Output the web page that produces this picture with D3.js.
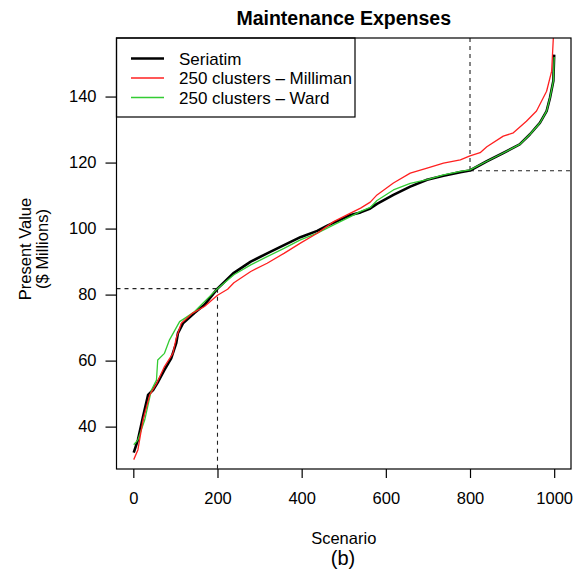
<!DOCTYPE html>
<html>
<head>
<meta charset="utf-8">
<script src="https://cdn.jsdelivr.net/npm/d3@7"></script>
<style>
  body { margin: 0; background: #fff; }
  svg { font-family: "Liberation Sans", Arial, Helvetica, sans-serif; }
</style>
</head>
<body>
<div id="chart"></div>
<script>
// datos (escenario ordenado, valor presente en millones)
const seriatimX = [1, 11, 23, 35, 47, 59, 74, 90, 102, 106, 118, 145, 169, 200, 239, 279, 318, 358, 397, 437, 461, 516, 540, 563, 579, 618, 658, 698, 737, 777, 800, 840, 879, 918, 942, 966, 982, 990, 998, 1000];
const seriatimY = [32.1, 36, 43, 49.6, 51.1, 53.6, 57.2, 60.7, 65.3, 68.3, 71.3, 74.4, 76.9, 81.8, 86.6, 90, 92.5, 95, 97.4, 99.3, 100.9, 104.1, 104.9, 106.1, 107.5, 110.2, 112.7, 114.8, 116, 117.1, 117.6, 120.4, 122.9, 125.5, 128.5, 132, 135.6, 139.6, 144.7, 152.7];

const millimanX = [1, 11, 23, 39, 55, 74, 94, 102, 114, 141, 169, 200, 224, 239, 279, 318, 358, 397, 437, 476, 516, 540, 563, 579, 618, 658, 698, 737, 777, 800, 824, 840, 879, 903, 934, 958, 982, 994, 998, 1000];
const millimanY = [30, 33, 42, 49.6, 53, 58.2, 62.2, 66.8, 71.3, 74.4, 76.4, 79.8, 81.6, 83.6, 87, 89.5, 92.5, 95.6, 98.6, 102.1, 104.7, 106.2, 108.0, 110.2, 113.8, 116.8, 118.3, 119.8, 120.8, 122, 123, 124.8, 128, 129, 132.5, 135.6, 141.6, 147.7, 157.8, 165];

const wardX = [1, 11, 27, 43, 55, 58, 74, 86, 110, 122, 145, 200, 239, 279, 318, 358, 397, 437, 476, 516, 540, 563, 579, 618, 658, 698, 737, 777, 800, 840, 879, 918, 942, 966, 982, 990, 998, 1000];
const wardY = [34.5, 36, 42, 51.1, 54.1, 60.2, 62.2, 66.3, 71.8, 72.8, 74.8, 81.8, 86, 89, 91.5, 94, 96.6, 98.6, 101.1, 103.6, 105.2, 106.4, 108.5, 111.7, 113.7, 114.8, 116.3, 117.3, 117.8, 120.4, 122.9, 125.5, 128.5, 132, 135.6, 139.6, 144.7, 152];

const xTicks = [0, 200, 400, 600, 800, 1000];
const yTicks = [40, 60, 80, 100, 120, 140];
const seriesNames = ["Seriatim", "250 clusters \u2013 Milliman", "250 clusters \u2013 Ward"];
const seriesColors = ["#000000", "#ff2020", "#33cc33"];
const seriesWidths = [2.6, 1.3, 1.3];

// cuantiles marcados con lineas punteadas
const refLow = { x: 200, y: 81.8 };
const refHigh = { x: 800, y: 117.5 };

const W = 582, H = 570;
const box = { left: 116.5, right: 571, top: 38, bottom: 469 };

const svg = d3.select("#chart").append("svg")
  .attr("width", W).attr("height", H);

const x = d3.scaleLinear().domain([-39.96, 1039.96]).range([box.left, box.right]);
const y = d3.scaleLinear().domain([27.16, 157.74]).range([box.bottom, box.top]);

svg.append("clipPath").attr("id", "clip")
  .append("rect")
  .attr("x", box.left).attr("y", box.top)
  .attr("width", box.right - box.left).attr("height", box.bottom - box.top);

// titulo
svg.append("text")
  .attr("x", (box.left + box.right) / 2).attr("y", 25)
  .attr("text-anchor", "middle")
  .attr("font-weight", "bold").attr("font-size", 19.5)
  .text("Maintenance Expenses");

// ejes
const xAxis = svg.append("g")
  .attr("transform", `translate(0,${box.bottom})`)
  .call(d3.axisBottom(x).tickValues(xTicks).tickFormat(d3.format("d"))
    .tickSize(9).tickPadding(14).tickSizeOuter(0));
xAxis.select(".domain").remove();
xAxis.selectAll("text").attr("font-size", 16.5).attr("fill", "#000").attr("font-family", null);
xAxis.selectAll("line").attr("stroke-width", 1.2);

const yAxis = svg.append("g")
  .attr("transform", `translate(${box.left},0)`)
  .call(d3.axisLeft(y).tickValues(yTicks).tickSize(11).tickPadding(9).tickSizeOuter(0));
yAxis.select(".domain").remove();
yAxis.selectAll("text").attr("font-size", 16.5).attr("fill", "#000").attr("font-family", null);
yAxis.selectAll("line").attr("stroke-width", 1.2);

// etiquetas de ejes
svg.append("text")
  .attr("x", (box.left + box.right) / 2).attr("y", 544)
  .attr("text-anchor", "middle").attr("font-size", 16.5)
  .text("Scenario");
svg.append("text")
  .attr("x", 343).attr("y", 565)
  .attr("text-anchor", "middle").attr("font-size", 20)
  .text("(b)");

const yl = svg.append("g").attr("transform", "translate(0,249) rotate(-90)");
yl.append("text").attr("x", 0).attr("y", 31)
  .attr("text-anchor", "middle").attr("font-size", 16.5).text("Present Value");
yl.append("text").attr("x", 0).attr("y", 48)
  .attr("text-anchor", "middle").attr("font-size", 16.5).text("($ Millions)");

// lineas punteadas de referencia
const dash = svg.append("g").attr("stroke", "#222").attr("stroke-width", 1.1)
  .attr("stroke-dasharray", "4,4").attr("fill", "none");
dash.append("line")
  .attr("x1", box.left).attr("x2", x(refLow.x))
  .attr("y1", y(refLow.y)).attr("y2", y(refLow.y));
dash.append("line")
  .attr("x1", x(refLow.x)).attr("x2", x(refLow.x))
  .attr("y1", y(refLow.y)).attr("y2", box.bottom);
dash.append("line")
  .attr("x1", x(refHigh.x)).attr("x2", x(refHigh.x))
  .attr("y1", box.top).attr("y2", y(refHigh.y));
dash.append("line")
  .attr("x1", x(refHigh.x)).attr("x2", box.right)
  .attr("y1", y(refHigh.y)).attr("y2", y(refHigh.y));

// series
const series = [
  d3.zip(seriatimX, seriatimY),
  d3.zip(millimanX, millimanY),
  d3.zip(wardX, wardY)
];
const line = d3.line().x(d => x(d[0])).y(d => y(d[1]));

const lines = svg.append("g").attr("clip-path", "url(#clip)");
[0, 2, 1].forEach(i => {
  lines.append("path")
    .datum(series[i])
    .attr("d", line)
    .attr("fill", "none")
    .attr("stroke", seriesColors[i])
    .attr("stroke-width", seriesWidths[i])
    .attr("stroke-linejoin", "round");
});

// leyenda
const leg = svg.append("g");
leg.append("rect")
  .attr("x", box.left).attr("y", box.top)
  .attr("width", 355 - box.left).attr("height", 117 - box.top)
  .attr("fill", "#fff");
seriesNames.forEach((name, i) => {
  const ly = 58.5 + i * 19.5;
  leg.append("line")
    .attr("x1", 131).attr("x2", 164).attr("y1", ly).attr("y2", ly)
    .attr("stroke", seriesColors[i]).attr("stroke-width", seriesWidths[i]);
  leg.append("text")
    .attr("x", 179).attr("y", ly + 6)
    .attr("font-size", 17)
    .text(name);
});
leg.append("rect")
  .attr("x", box.left).attr("y", box.top)
  .attr("width", 355 - box.left).attr("height", 117 - box.top)
  .attr("fill", "none").attr("stroke", "#000").attr("stroke-width", 1.2);

// marco del grafico
svg.append("rect")
  .attr("x", box.left).attr("y", box.top)
  .attr("width", box.right - box.left).attr("height", box.bottom - box.top)
  .attr("fill", "none").attr("stroke", "#000").attr("stroke-width", 1.2);
</script>
</body>
</html>
